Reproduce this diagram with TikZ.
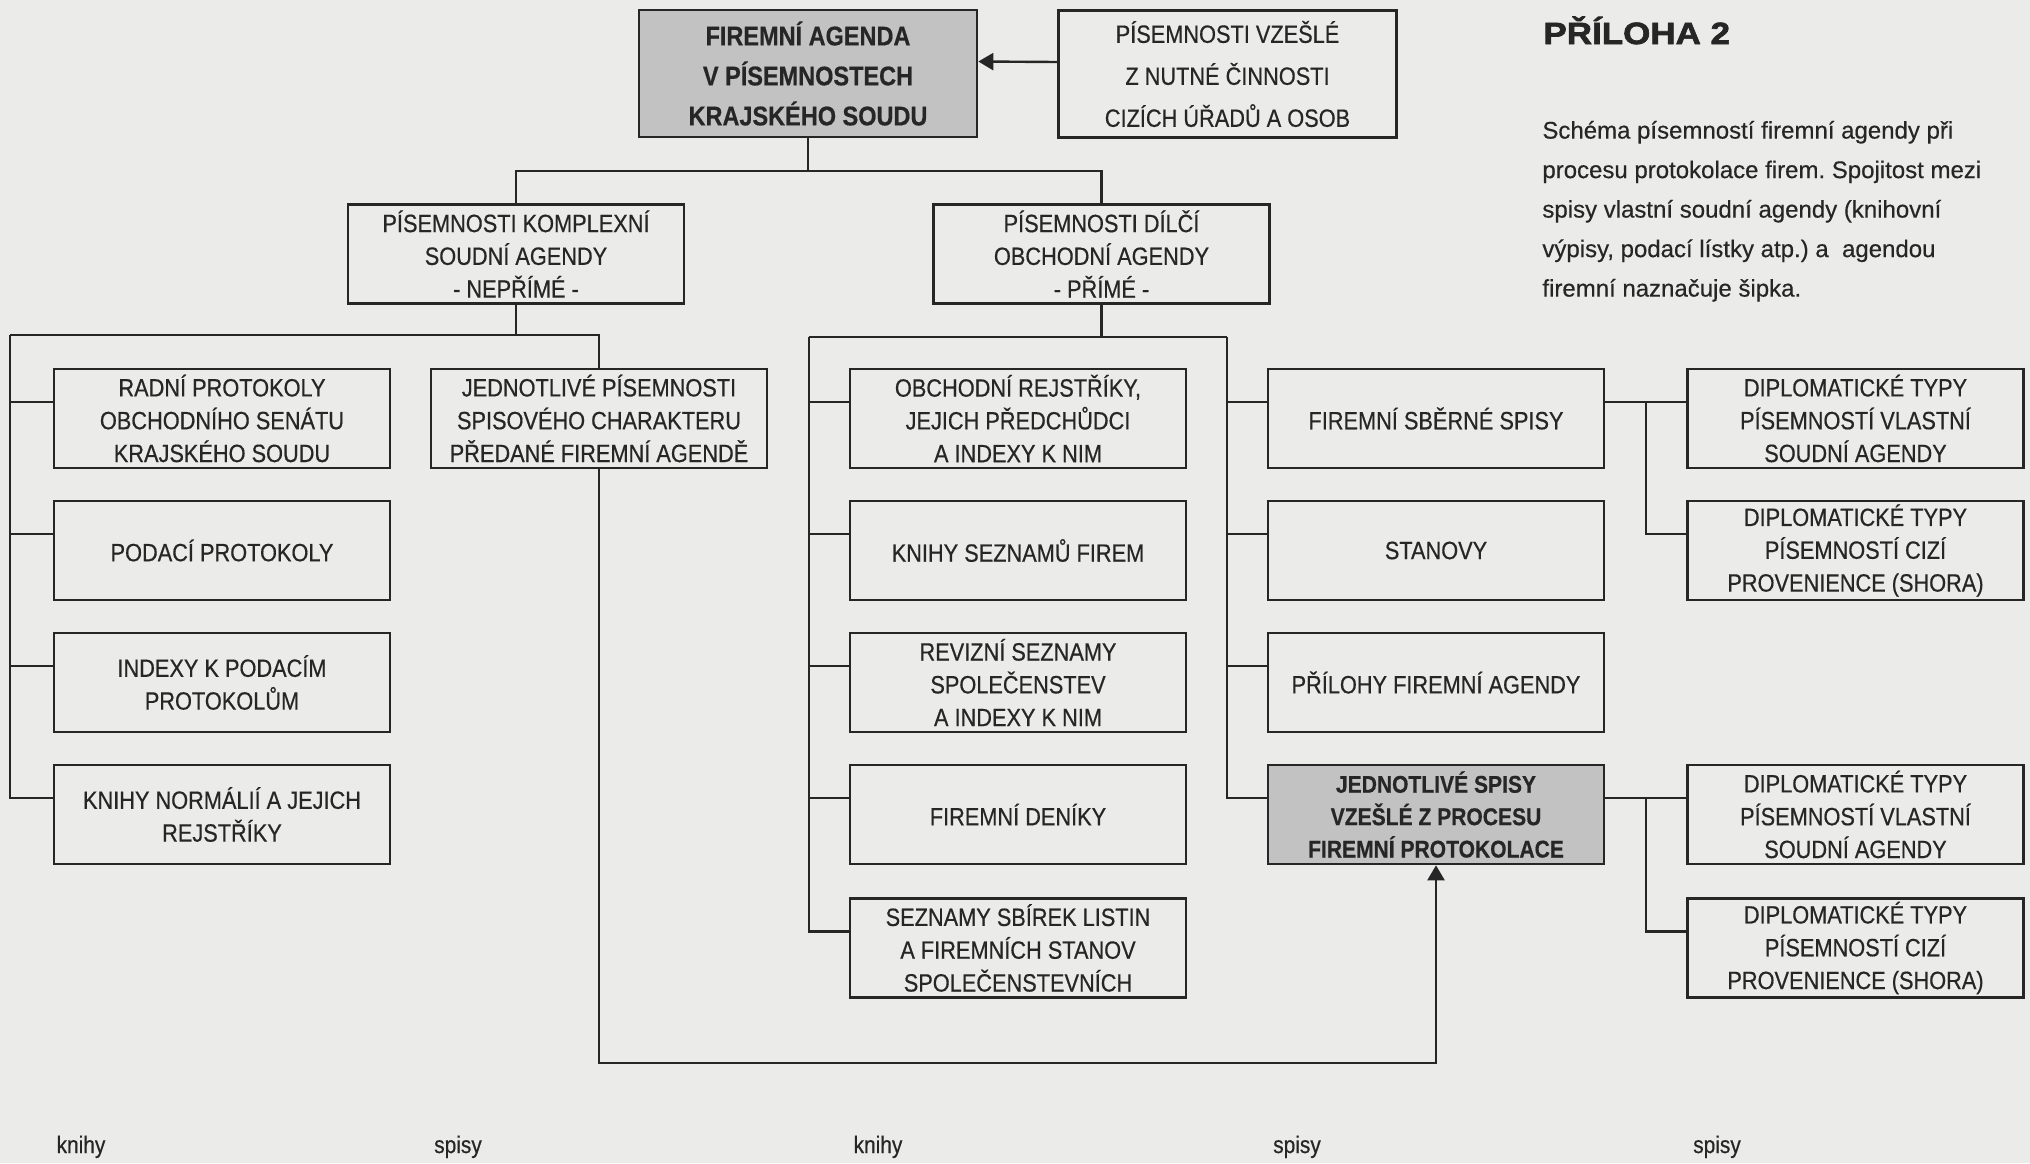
\documentclass[tikz,border=0pt]{standalone}
\usepackage{fontspec}
\setmainfont{Liberation Sans}[FakeStretch=0.87,FakeBold=0.5]
\newfontfamily\notefont{Liberation Sans}[FakeBold=0.4]
\newfontfamily\headfont{Liberation Sans}[FakeStretch=1.14,FakeBold=2.2]
\usetikzlibrary{arrows.meta,calc}
\definecolor{paper}{HTML}{EBEBEA}
\definecolor{ink}{HTML}{262626}
\definecolor{shade}{HTML}{C2C2C2}
\frenchspacing

\begin{document}
\begin{tikzpicture}[x=0.5pt,y=-0.5pt,
  box/.style={draw=ink, line width=1.3pt, text=ink, inner sep=0pt, minimum width=168pt, minimum height=49.5pt, align=center, font=\fontsize{12.5}{16.4}\selectfont},
  tallbox/.style={box, minimum width=169pt, minimum height=63.5pt, font=\fontsize{12.5}{21}\selectfont},
  keybox/.style={box, fill=shade, font=\fontsize{12.1}{16.2}\selectfont\bfseries},
  link/.style={draw=ink, line width=1.2pt},
  tip/.style={link, -{Triangle[length=7.5pt,width=8.5pt]}},
  kind/.style={anchor=base, inner sep=0pt, text=ink, font=\fontsize{12}{14}\selectfont}]
\useasboundingbox (0,0) rectangle (2030,1163);
\fill[paper] (0,0) rectangle (2030,1163);

% top row
\node[tallbox, fill=shade, font=\fontsize{13.5}{20}\selectfont\bfseries] (topbox) at (808,73.5) {FIREMNÍ AGENDA\\V PÍSEMNOSTECH\\KRAJSKÉHO SOUDU};
\node[tallbox] (vzesle) at (1227.5,74) {PÍSEMNOSTI VZEŠLÉ\\Z NUTNÉ ČINNOSTI\\CIZÍCH ÚŘADŮ A OSOB};
\node[anchor=base west, inner sep=0pt, text=ink, font=\headfont\fontsize{15.35}{18}\selectfont\bfseries] (priloha) at (1543,44) {PŘÍLOHA 2};
\node[anchor=north west, inner sep=0pt, align=left, text=ink, font=\notefont\fontsize{12}{19.75}\selectfont] (note) at (1542,120.5)
  {Schéma písemností firemní agendy při\\procesu protokolace firem. Spojitost mezi\\spisy vlastní soudní agendy (knihovní\\výpisy, podací lístky atp.) a\ \ agendou\\firemní naznačuje šipka.};

% second row
\node[box] (komplex) at (516,254) {PÍSEMNOSTI KOMPLEXNÍ\\SOUDNÍ AGENDY\\- NEPŘÍMÉ -};
\node[box] (dilci) at (1101.5,254) {PÍSEMNOSTI DÍLČÍ\\OBCHODNÍ AGENDY\\- PŘÍMÉ -};

% books and files, left branch
\node[box] (radni) at (222,418.5) {RADNÍ PROTOKOLY\\OBCHODNÍHO SENÁTU\\KRAJSKÉHO SOUDU};
\node[box] (podaci) at (222,550.5) {PODACÍ PROTOKOLY};
\node[box] (indexy) at (222,682.5) {INDEXY K PODACÍM\\PROTOKOLŮM};
\node[box] (normal) at (222,814.5) {KNIHY NORMÁLIÍ A JEJICH\\REJSTŘÍKY};
\node[box] (pisem) at (599,418.5) {JEDNOTLIVÉ PÍSEMNOSTI\\SPISOVÉHO CHARAKTERU\\PŘEDANÉ FIREMNÍ AGENDĚ};

% books and files, right branch
\node[box] (rejstr) at (1018,418.5) {OBCHODNÍ REJSTŘÍKY,\\JEJICH PŘEDCHŮDCI\\A INDEXY K NIM};
\node[box] (seznam) at (1018,550.5) {KNIHY SEZNAMŮ FIREM};
\node[box] (reviz) at (1018,682.5) {REVIZNÍ SEZNAMY\\SPOLEČENSTEV\\A INDEXY K NIM};
\node[box] (deniky) at (1018,814.5) {FIREMNÍ DENÍKY};
\node[box] (sbirky) at (1018,948) {SEZNAMY SBÍREK LISTIN\\A FIREMNÍCH STANOV\\SPOLEČENSTEVNÍCH};
\node[box] (sberne) at (1436,418.5) {FIREMNÍ SBĚRNÉ SPISY};
\node[box] (stanovy) at (1436,550.5) {STANOVY};
\node[box] (prilohy) at (1436,682.5) {PŘÍLOHY FIREMNÍ AGENDY};
\node[keybox] (protok) at (1436,814.5) {JEDNOTLIVÉ SPISY\\VZEŠLÉ Z PROCESU\\FIREMNÍ PROTOKOLACE};
\node[box] (diplA) at (1855.5,418.5) {DIPLOMATICKÉ TYPY\\PÍSEMNOSTÍ VLASTNÍ\\SOUDNÍ AGENDY};
\node[box] (diplB) at (1855.5,550.5) {DIPLOMATICKÉ TYPY\\PÍSEMNOSTÍ CIZÍ\\PROVENIENCE (SHORA)};
\node[box] (diplC) at (1855.5,814.5) {DIPLOMATICKÉ TYPY\\PÍSEMNOSTÍ VLASTNÍ\\SOUDNÍ AGENDY};
\node[box] (diplD) at (1855.5,948) {DIPLOMATICKÉ TYPY\\PÍSEMNOSTÍ CIZÍ\\PROVENIENCE (SHORA)};

% column captions
\node[kind] (kindA) at (81,1153) {knihy};
\node[kind] (kindB) at (458,1153) {spisy};
\node[kind] (kindC) at (878,1153) {knihy};
\node[kind] (kindD) at (1297,1153) {spisy};
\node[kind] (kindE) at (1717,1153) {spisy};

% connectors
\coordinate (topfork) at (808,171);
\coordinate (leftrail) at (10,335);
\coordinate (crail) at (809,337);
\coordinate (drail) at (1227,337);
\coordinate (arrowbase) at (599,1063);
\coordinate (forkA) at ($([yshift=8.25pt]sberne.east)!0.5!([yshift=8.25pt]diplA.west)$);
\coordinate (forkC) at ($([yshift=8.25pt]protok.east)!0.5!([yshift=8.25pt]diplC.west)$);

\draw[tip] ([yshift=6pt]vzesle.west) -- ([yshift=6pt]topbox.east);
\draw[link] (topbox.south) -- (topfork);
\draw[link] (komplex.north) |- (topfork) -| (dilci.north);
\draw[link] (komplex.south) |- (leftrail);
\draw[link] (komplex.south) |- (leftrail -| pisem.north) -- (pisem.north);
\foreach \n in {radni,podaci,indexy,normal}
  \draw[link] ([yshift=8.25pt]\n.west) -| (leftrail);
\draw[link] (dilci.south) |- (crail) -- (drail);
\foreach \n in {rejstr,seznam,reviz,deniky,sbirky}
  \draw[link] ([yshift=8.25pt]\n.west) -| (crail);
\foreach \n in {sberne,stanovy,prilohy,protok}
  \draw[link] ([yshift=8.25pt]\n.west) -| (drail);
\draw[link] ([yshift=8.25pt]sberne.east) -- ([yshift=8.25pt]diplA.west);
\draw[link] ([yshift=8.25pt]diplB.west) -| (forkA);
\draw[link] ([yshift=8.25pt]protok.east) -- ([yshift=8.25pt]diplC.west);
\draw[link] ([yshift=8.25pt]diplD.west) -| (forkC);
\draw[tip] (pisem.south) -- (arrowbase) -| (protok.south);
\end{tikzpicture}
\end{document}
